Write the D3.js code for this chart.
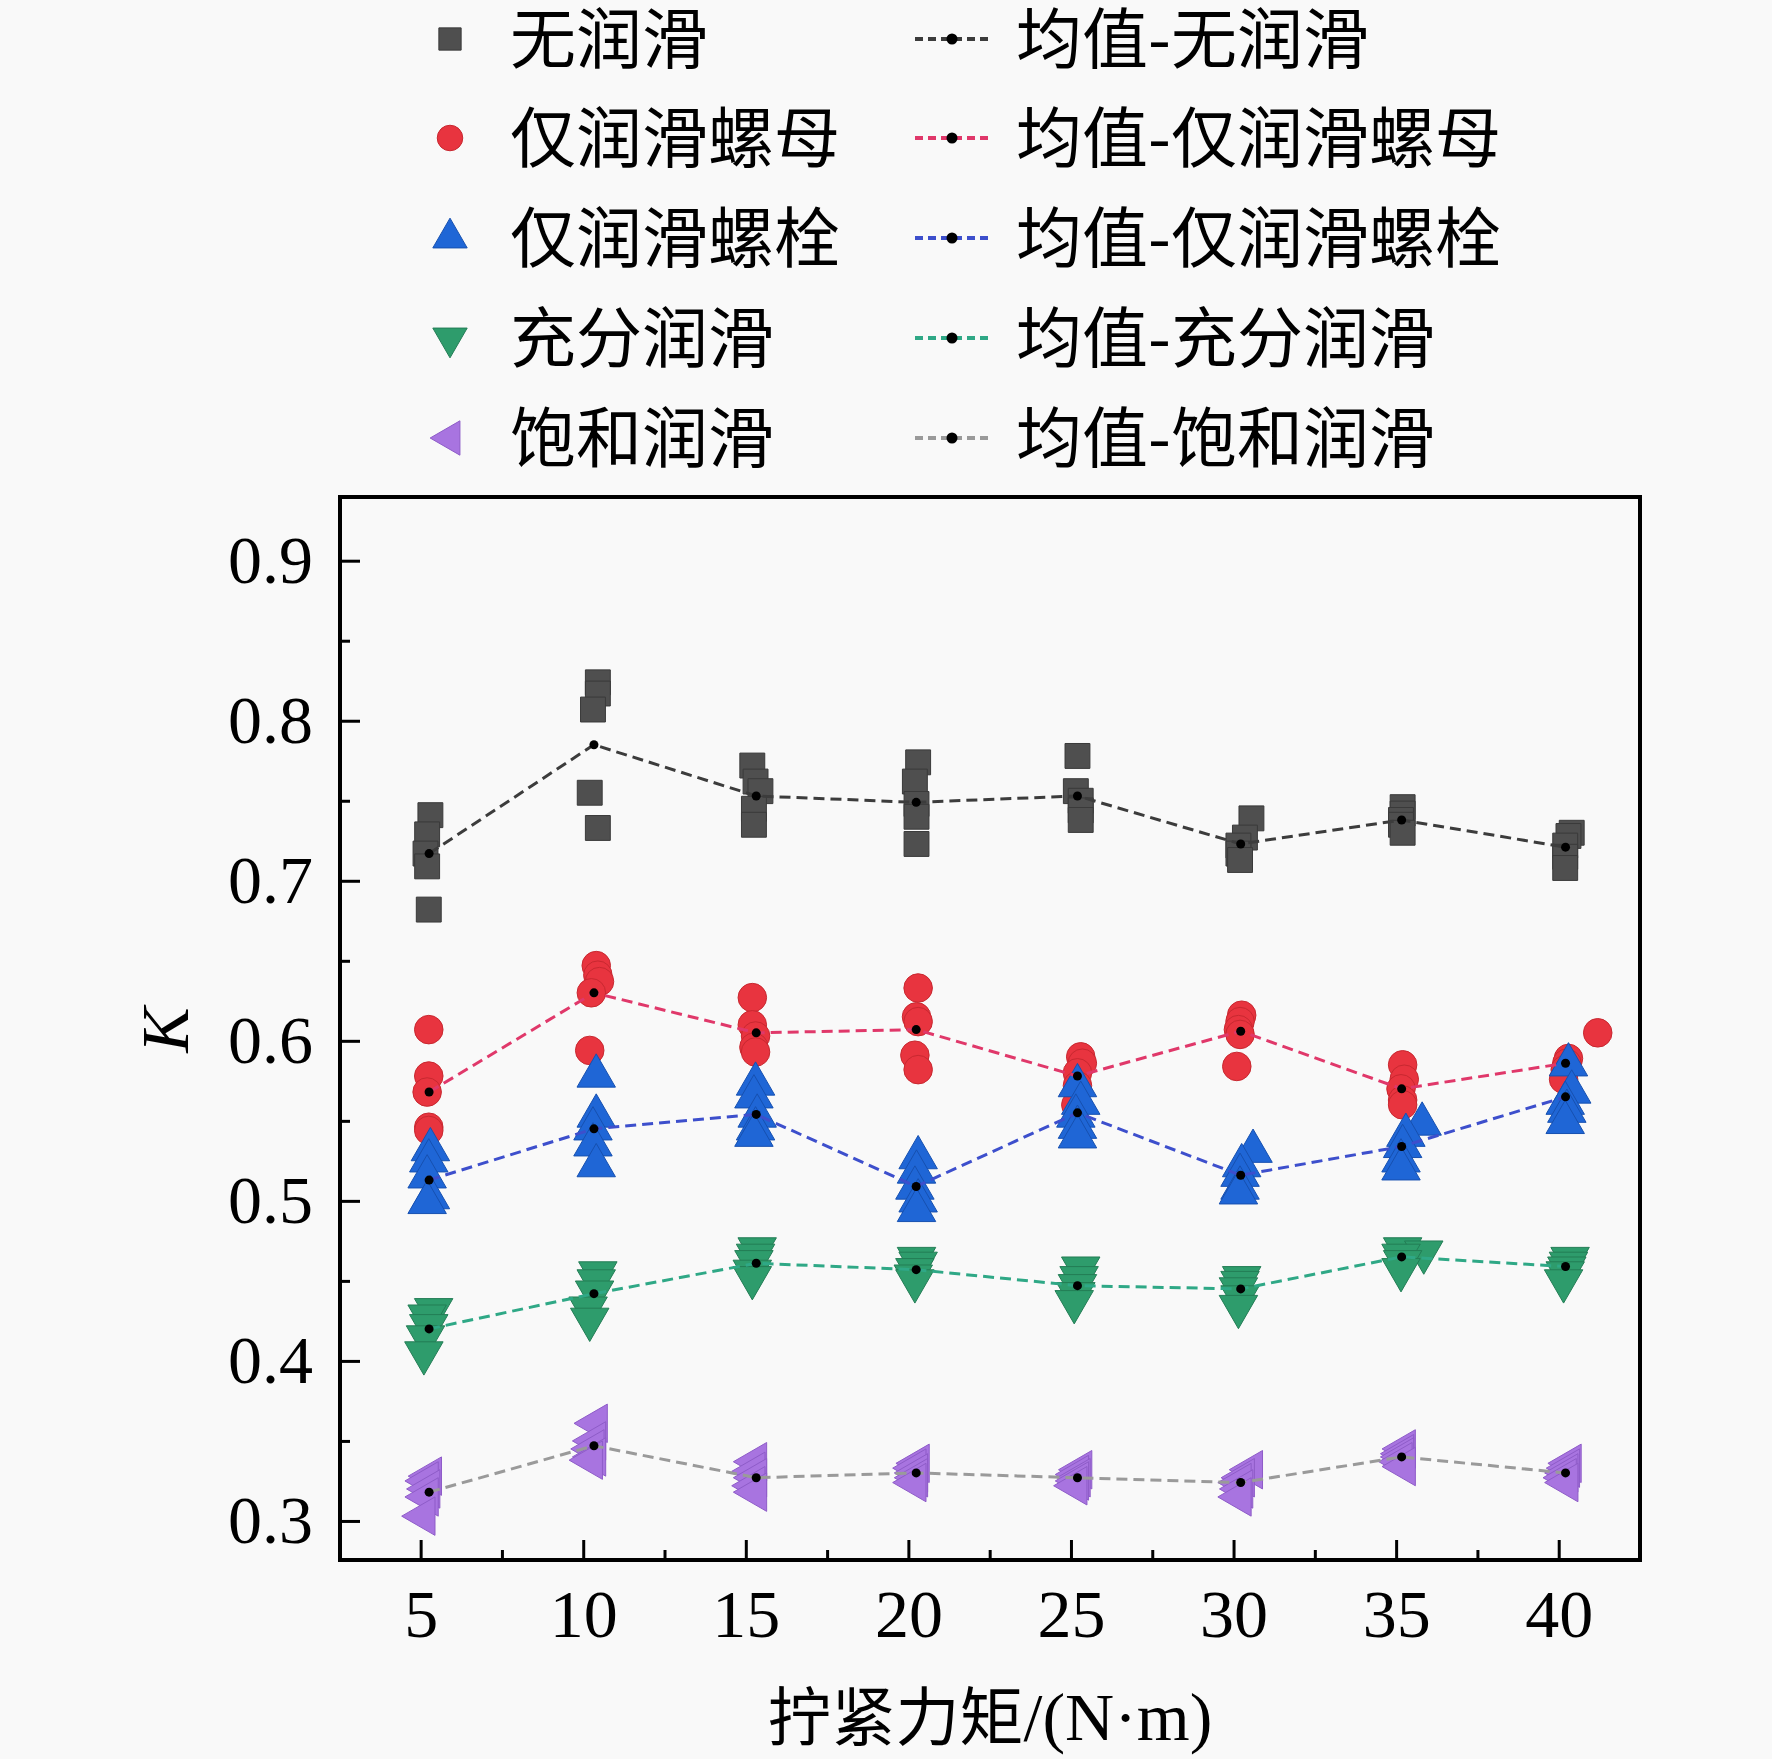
<!DOCTYPE html>
<html>
<head>
<meta charset="utf-8">
<script src="https://cdn.jsdelivr.net/npm/d3@7"></script>
<style>
  body { margin: 0; background: #f9f9f9; }
  svg { display: block; }
</style>
</head>
<body>
<svg class="main"></svg>
<script>
// tick labels on the x axis
const torque = [5, 10, 15, 20, 25, 30, 35, 40];
const kTicks = [0.3, 0.4, 0.5, 0.6, 0.7, 0.8, 0.9];

// where the mean dots sit
const meanX = [5.26, 10.33, 15.32, 20.24, 25.2, 30.22, 35.17, 40.21];

// means
const meanNoLub   = [0.717, 0.785, 0.753, 0.749, 0.753, 0.723, 0.738, 0.721];
const meanNutLub  = [0.568, 0.630, 0.605, 0.607, 0.578, 0.606, 0.570, 0.586];
const meanBoltLub = [0.513, 0.545, 0.554, 0.509, 0.555, 0.516, 0.534, 0.565];
const meanFullLub = [0.420, 0.442, 0.461, 0.457, 0.447, 0.445, 0.465, 0.459];
const meanSatLub  = [0.318, 0.347, 0.327, 0.330, 0.327, 0.324, 0.340, 0.330];

// measured points [torque, K]
const noLub = [
  [5.3,0.741],[5.2,0.729],[5.15,0.717],[5.2,0.709],[5.25,0.682],
  [10.45,0.824],[10.45,0.817],[10.3,0.807],[10.2,0.755],[10.45,0.733],
  [15.2,0.772],[15.3,0.762],[15.45,0.756],[15.25,0.745],[15.25,0.735],
  [20.3,0.774],[20.2,0.762],[20.25,0.748],[20.25,0.740],[20.25,0.723],
  [25.2,0.778],[25.15,0.756],[25.3,0.750],[25.3,0.744],[25.3,0.738],
  [30.55,0.739],[30.35,0.727],[30.15,0.722],[30.15,0.717],[30.2,0.713],
  [35.2,0.746],[35.2,0.742],[35.15,0.738],[35.15,0.735],[35.2,0.730],
  [40.4,0.730],[40.3,0.728],[40.2,0.722],[40.2,0.715],[40.2,0.708]
];
const nutLub = [
  [5.25,0.607],[5.25,0.578],[5.2,0.568],[5.25,0.546],[5.25,0.544],
  [10.4,0.647],[10.45,0.641],[10.5,0.637],[10.25,0.630],[10.2,0.594],
  [15.2,0.627],[15.2,0.610],[15.3,0.603],[15.25,0.596],[15.3,0.593],
  [20.3,0.633],[20.25,0.615],[20.3,0.612],[20.2,0.591],[20.3,0.582],
  [25.3,0.590],[25.35,0.586],[25.2,0.580],[25.2,0.572],[25.15,0.560],
  [30.25,0.616],[30.2,0.612],[30.15,0.607],[30.2,0.604],[30.1,0.584],
  [35.2,0.585],[35.25,0.576],[35.15,0.570],[35.2,0.563],[35.2,0.560],
  [41.2,0.605],[40.3,0.589],[40.25,0.586],[40.2,0.582],[40.15,0.576]
];
const boltLub = [
  [5.3,0.532],[5.25,0.525],[5.2,0.515],[5.3,0.502],[5.2,0.499],
  [10.4,0.578],[10.4,0.553],[10.3,0.545],[10.3,0.535],[10.4,0.522],
  [15.3,0.573],[15.25,0.565],[15.35,0.553],[15.3,0.545],[15.25,0.541],
  [20.3,0.527],[20.25,0.518],[20.2,0.508],[20.3,0.500],[20.25,0.494],
  [25.2,0.572],[25.3,0.561],[25.15,0.553],[25.2,0.546],[25.2,0.540],
  [30.6,0.531],[30.25,0.522],[30.2,0.516],[30.2,0.508],[30.15,0.505],
  [35.8,0.548],[35.3,0.541],[35.2,0.534],[35.15,0.525],[35.15,0.520],
  [40.3,0.585],[40.4,0.568],[40.2,0.561],[40.25,0.556],[40.2,0.549]
];
const fullLub = [
  [5.4,0.432],[5.2,0.428],[5.25,0.422],[5.15,0.415],[5.1,0.405],
  [10.45,0.455],[10.4,0.450],[10.35,0.443],[10.15,0.433],[10.2,0.426],
  [15.35,0.470],[15.3,0.466],[15.25,0.462],[15.2,0.456],[15.2,0.452],
  [20.25,0.464],[20.3,0.461],[20.2,0.457],[20.15,0.453],[20.2,0.450],
  [25.3,0.458],[25.25,0.452],[25.2,0.447],[25.15,0.442],[25.1,0.437],
  [30.25,0.452],[30.2,0.449],[30.15,0.445],[30.2,0.440],[30.15,0.434],
  [35.2,0.470],[35.85,0.468],[35.15,0.466],[35.2,0.462],[35.15,0.457],
  [40.35,0.464],[40.3,0.461],[40.25,0.458],[40.2,0.455],[40.15,0.450]
];
const satLub = [
  [5.3,0.328],[5.2,0.325],[5.25,0.320],[5.2,0.315],[5.1,0.303],
  [10.4,0.361],[10.35,0.350],[10.3,0.345],[10.35,0.340],[10.25,0.338],
  [15.3,0.337],[15.25,0.331],[15.3,0.327],[15.25,0.322],[15.3,0.318],
  [20.3,0.336],[20.2,0.333],[20.25,0.330],[20.25,0.327],[20.2,0.324],
  [25.3,0.332],[25.2,0.329],[25.25,0.327],[25.2,0.325],[25.15,0.322],
  [30.55,0.332],[30.3,0.327],[30.2,0.324],[30.25,0.320],[30.2,0.315],
  [35.25,0.345],[35.2,0.342],[35.2,0.340],[35.15,0.337],[35.25,0.334],
  [40.35,0.336],[40.3,0.333],[40.25,0.330],[40.2,0.327],[40.25,0.324]
];

const names = ["无润滑", "仅润滑螺母", "仅润滑螺栓", "充分润滑", "饱和润滑"];

const width = 1772;
const height = 1759;
const pLeft = 340, pRight = 1640, pTop = 497, pBottom = 1560;

const svg = d3.select("svg.main")
   .attr("width", width)
   .attr("height", height);

svg.append("rect").attr("width", width).attr("height", height).attr("fill", "#f9f9f9");

const x = d3.scaleLinear().domain([2.52, 42.5]).range([pLeft, pRight]);
const y = d3.scaleLinear().domain([0.2756, 0.9398]).range([pBottom, pTop]);

const serif = "'Liberation Serif', 'Times New Roman', serif";
const cjk = "'Noto Sans CJK SC', sans-serif";

// marker types
const series = [
  { pts: noLub,   mean: meanNoLub,   sym: d3.symbolSquare,   size: 620, rot: 0,   fill: "#4f4f4f", edge: "#3a3a3a", line: "#3c3c3c" },
  { pts: nutLub,  mean: meanNutLub,  sym: d3.symbolCircle,   size: 640, rot: 0,   fill: "#e8343f", edge: "#c82830", line: "#e0386a" },
  { pts: boltLub, mean: meanBoltLub, sym: d3.symbolTriangle, size: 640, rot: 0,   fill: "#1f66d6", edge: "#1650b0", line: "#3d4fcc" },
  { pts: fullLub, mean: meanFullLub, sym: d3.symbolTriangle, size: 640, rot: 180, fill: "#2e9c6c", edge: "#237d55", line: "#2fa886" },
  { pts: satLub,  mean: meanSatLub,  sym: d3.symbolTriangle, size: 640, rot: -90, fill: "#a874e0", edge: "#8e5cc8", line: "#9a9a9a" }
];

// scatter points
series.forEach(s => {
  svg.append("g").selectAll("path")
    .data(s.pts)
    .join("path")
    .attr("d", d3.symbol().type(s.sym).size(s.size))
    .attr("transform", d => `translate(${x(d[0])},${y(d[1])}) rotate(${s.rot})`)
    .attr("fill", s.fill)
    .attr("stroke", s.edge)
    .attr("stroke-width", 1);
});

// mean lines and dots
series.forEach(s => {
  const pts = s.mean.map((v, i) => [meanX[i], v]);
  svg.append("path")
    .datum(pts)
    .attr("d", d3.line().x(d => x(d[0])).y(d => y(d[1])))
    .attr("fill", "none")
    .attr("stroke", s.line)
    .attr("stroke-width", 3)
    .attr("stroke-dasharray", "11,6");
  svg.append("g").selectAll("circle")
    .data(pts)
    .join("circle")
    .attr("cx", d => x(d[0]))
    .attr("cy", d => y(d[1]))
    .attr("r", 4.5)
    .attr("fill", "#000");
});

// axes with inward ticks
const yAxis = d3.axisLeft(y).tickValues(kTicks).tickFormat(d3.format(".1f")).tickSize(-20).tickPadding(27);
const yMinor = d3.axisLeft(y).tickValues(d3.range(0.35, 0.95, 0.1)).tickFormat("").tickSize(-10);
const xAxis = d3.axisBottom(x).tickValues(torque).tickFormat(d3.format("d")).tickSize(-20).tickPadding(29);
const xMinor = d3.axisBottom(x).tickValues(d3.range(7.5, 40, 5)).tickFormat("").tickSize(-10);

function styleAxis(g) {
  g.select(".domain").remove();
  g.selectAll("line").attr("stroke", "#000").attr("stroke-width", 3);
  g.selectAll("text").attr("font-family", serif).attr("font-size", 68).attr("fill", "#000");
}
svg.append("g").attr("transform", `translate(${pLeft},0)`).call(yAxis).call(styleAxis);
svg.append("g").attr("transform", `translate(${pLeft},0)`).call(yMinor).call(styleAxis);
svg.append("g").attr("transform", `translate(0,${pBottom})`).call(xAxis).call(styleAxis);
svg.append("g").attr("transform", `translate(0,${pBottom})`).call(xMinor).call(styleAxis);

svg.append("rect")
  .attr("x", pLeft).attr("y", pTop)
  .attr("width", pRight - pLeft).attr("height", pBottom - pTop)
  .attr("fill", "none").attr("stroke", "#000").attr("stroke-width", 4);

// axis titles
svg.append("text")
  .attr("transform", "translate(188,1030) rotate(-90)")
  .attr("text-anchor", "middle")
  .attr("font-family", serif).attr("font-style", "italic")
  .attr("font-size", 68)
  .text("K");

svg.append("text")
  .attr("x", 990).attr("y", 1740)
  .attr("text-anchor", "middle")
  .attr("font-size", 64)
  .call(t => {
    t.append("tspan").attr("font-family", cjk).text("拧紧力矩");
    t.append("tspan").attr("font-family", serif).attr("font-size", 68).text("/(N·m)");
  });

// legend
const rowY = [39, 138, 238, 338, 438];
const leg = svg.append("g");
series.forEach((s, i) => {
  leg.append("path")
    .attr("d", d3.symbol().type(s.sym).size(s.size * 0.8))
    .attr("transform", `translate(450,${rowY[i]}) rotate(${s.rot})`)
    .attr("fill", s.fill)
    .attr("stroke", s.edge)
    .attr("stroke-width", 1);
  leg.append("text")
    .attr("x", 510).attr("y", rowY[i])
    .attr("dy", "0.36em")
    .attr("font-family", cjk).attr("font-size", 66)
    .text(names[i]);

  leg.append("line")
    .attr("x1", 915).attr("x2", 989)
    .attr("y1", rowY[i]).attr("y2", rowY[i])
    .attr("stroke", s.line).attr("stroke-width", 4)
    .attr("stroke-dasharray", "8,5");
  leg.append("circle")
    .attr("cx", 952).attr("cy", rowY[i]).attr("r", 5.5).attr("fill", "#000");
  leg.append("text")
    .attr("x", 1016).attr("y", rowY[i])
    .attr("dy", "0.36em")
    .attr("font-family", cjk).attr("font-size", 66)
    .text("均值-" + names[i]);
});
</script>
</body>
</html>
